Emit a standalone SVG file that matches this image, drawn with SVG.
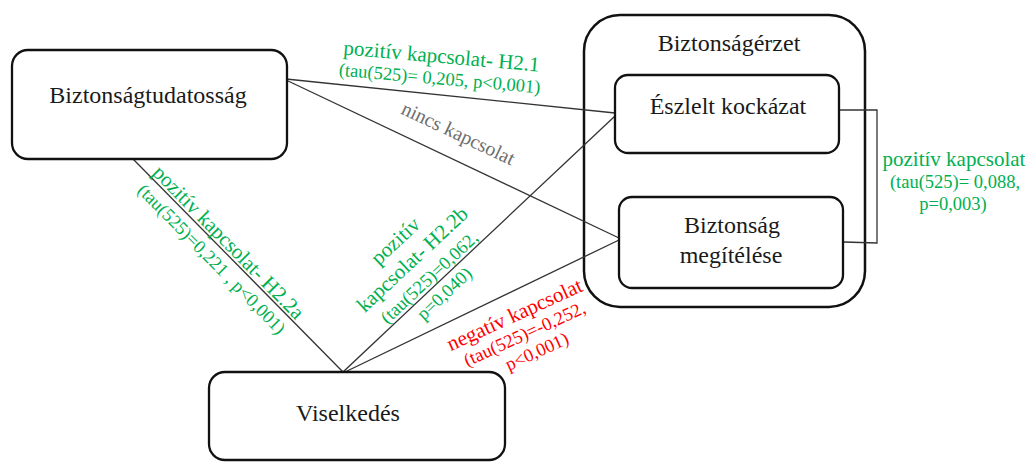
<svg xmlns="http://www.w3.org/2000/svg" width="1029" height="462" viewBox="0 0 1029 462">
<style>
.box{fill:#fff;stroke:#111;stroke-width:2.3}
.outer{fill:none;stroke:#111;stroke-width:2.5}
text{font-family:'Liberation Serif','DejaVu Serif',serif}
.node{font-size:24px;fill:#1a1a1a;text-anchor:middle}
.lbl{text-anchor:middle}
.g{fill:#00b050}
.r{fill:#ff0000}
.gr{fill:#6e6e6e}
.big{font-size:21px}
.sm{font-size:18.5px}
.conn line,.conn polyline{stroke:#333;stroke-width:1.3;fill:none}
</style>
<rect width="1029" height="462" fill="#fff"/>
<g id="biztonsagerzet">
<rect class="outer" x="584" y="15" width="281" height="292" rx="36"/>
<text class="node" x="729" y="51">Biztonságérzet</text>
</g>
<g class="conn" id="connectors">
<line x1="286" y1="79" x2="615" y2="113"/>
<line x1="286" y1="80" x2="619" y2="238"/>
<line x1="133" y1="159" x2="343" y2="372"/>
<line x1="343" y1="372" x2="615" y2="116"/>
<line x1="345" y1="372" x2="619" y2="240"/>
<polyline points="839,110 877,110 877,243 844,242"/>
</g>
<g id="biztonsagtudatossag">
<rect class="box" x="12" y="50" width="275" height="109" rx="16"/>
<text class="node" x="148" y="103">Biztonságtudatosság</text>
</g>
<g id="eszlelt">
<rect class="box" x="615" y="75" width="224" height="78" rx="13"/>
<text class="node" x="728" y="114">Észlelt kockázat</text>
</g>
<g id="megitelese">
<rect class="box" x="619" y="197" width="224" height="91" rx="13"/>
<text class="node" x="732" y="233">Biztonság</text>
<text class="node" x="731" y="263">megítélése</text>
</g>
<g id="viselkedes">
<rect class="box" x="209" y="372" width="296" height="88" rx="16"/>
<text class="node" x="348" y="421">Viselkedés</text>
</g>
<g id="labels">
<g transform="translate(441,63) rotate(5)">
<text class="lbl g big" x="0" y="0">pozitív kapcsolat- H2.1</text>
<text class="lbl g sm" x="0" y="21.5">(tau(525)= 0,205, p&lt;0,001)</text>
</g>
<g transform="translate(458,134) rotate(25.3)">
<text class="lbl gr" style="font-size:20px" x="0" y="6">nincs kapcsolat</text>
</g>
<g transform="translate(228,243) rotate(45.5)">
<text class="lbl g big" x="0" y="6">pozitív kapcsolat- H2.2a</text>
<text class="lbl g sm" x="0" y="29">(tau(525)=0,221 , p&lt;0,001)</text>
</g>
<g transform="translate(413,260) rotate(-43)">
<text class="lbl g big" x="0" y="-19">pozitív</text>
<text class="lbl g big" x="0" y="6">kapcsolat- H2.2b</text>
<text class="lbl g sm" x="0" y="30">(tau(525)=0,062,</text>
<text class="lbl g sm" x="0" y="52">p=0,040)</text>
</g>
<g transform="translate(525,335) rotate(-24.5)">
<text class="lbl r big" x="-1" y="-16">negatív kapcsolat</text>
<text class="lbl r sm" x="0" y="5">(tau(525)=-0,252,</text>
<text class="lbl r sm" x="4" y="26">p&lt;0,001)</text>
</g>
<g>
<text class="lbl g big" x="954" y="166">pozitív kapcsolat</text>
<text class="lbl g sm" x="955" y="188">(tau(525)= 0,088,</text>
<text class="lbl g sm" x="953" y="210">p=0,003)</text>
</g>
</g>
</svg>
